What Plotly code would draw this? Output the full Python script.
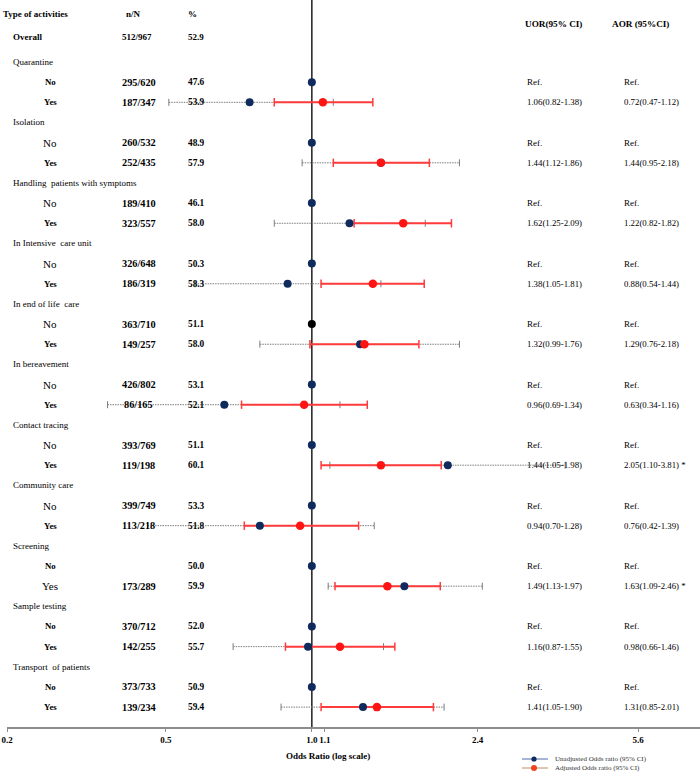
import math
import plotly.graph_objects as go

# ---- data ----
groups = ["Quarantine", "Isolation", "Handling  patients with symptoms",
          "In Intensive  care unit", "In end of life  care", "In bereavement",
          "Contact tracing", "Community care", "Screening", "Sample testing",
          "Transport  of patients"]
n_no = ["295/620", "260/532", "189/410", "326/648", "363/710", "426/802",
        "393/769", "399/749", "", "370/712", "373/733"]
pct_no = [47.6, 48.9, 46.1, 50.3, 51.1, 53.1, 51.1, 53.3, 50.0, 52.0, 50.9]
n_yes = ["187/347", "252/435", "323/557", "186/319", "149/257", "86/165",
         "119/198", "113/218", "173/289", "142/255", "139/234"]
pct_yes = [53.9, 57.9, 58.0, 58.3, 58.0, 52.1, 60.1, 51.8, 59.9, 55.7, 59.4]

uor = [1.06, 1.44, 1.62, 1.38, 1.32, 0.96, 1.44, 0.94, 1.49, 1.16, 1.41]
uor_lo = [0.82, 1.12, 1.25, 1.05, 0.99, 0.69, 1.05, 0.70, 1.13, 0.87, 1.05]
uor_hi = [1.38, 1.86, 2.09, 1.81, 1.76, 1.34, 1.98, 1.28, 1.97, 1.55, 1.90]
aor = [0.72, 1.44, 1.22, 0.88, 1.29, 0.63, 2.05, 0.76, 1.63, 0.98, 1.31]
aor_lo = [0.47, 0.95, 0.82, 0.54, 0.76, 0.34, 1.10, 0.42, 1.09, 0.66, 0.85]
aor_hi = [1.12, 2.18, 1.82, 1.44, 2.18, 1.16, 3.81, 1.39, 2.46, 1.46, 2.01]
aor_flag = ["", "", "", "", "", "", " *", "", " *", "", ""]

overall_n = "512/967"
overall_pct = 52.9

tick_vals = [0.2, 0.463, 1.0, 1.071, 2.4, 5.6]
tick_text = ["0.2", "0.5", "1.0", "1.1", "2.4", "5.6"]

# ---- layout helpers ----
FONT = "Liberation Serif"
NAVY = "#0f2a5c"
RED = "#ff1414"
ROW_H = 20.16
big_label_rows = {4, 7, 10, 13, 16, 19, 22, 26}

head_rows = [3 * i for i in range(len(groups))]
no_rows = [3 * i + 1 for i in range(len(groups))]
yes_rows = [3 * i + 2 for i in range(len(groups))]
ref_colors = [NAVY] * len(groups)
ref_colors[4] = "black"


def px_x(p):
    return (p - 7) / 693


def px_row(p):
    return (p - 62) / ROW_H


fig = go.Figure()


def text(xpx, row, s, size, bold=False, anchor="left", color="black"):
    fig.add_annotation(x=px_x(xpx), xref="paper", y=row, yref="y",
                       text=f"<b>{s}</b>" if bold else s, showarrow=False,
                       xanchor=anchor, yanchor="middle", borderpad=0,
                       font=dict(family=FONT, size=size, color=color))


def ci_lines(lo, hi, rows):
    xs, ys = [], []
    for a, b, r in zip(lo, hi, rows):
        xs += [a, b, None]
        ys += [r, r, None]
    return xs, ys


# adjusted (navy dots, dotted CI)
xs, ys = ci_lines(aor_lo, aor_hi, yes_rows)
fig.add_trace(go.Scatter(x=xs, y=ys, mode="lines", hoverinfo="skip",
                         line=dict(color="#7d7d7d", width=1, dash="1.5px,1px")))
fig.add_trace(go.Scatter(x=aor_lo + aor_hi, y=yes_rows * 2, mode="markers",
                         hoverinfo="skip",
                         marker=dict(symbol="line-ns", size=5,
                                     line=dict(color="#7d7d7d", width=1))))
# unadjusted (red dots, solid CI)
xs, ys = ci_lines(uor_lo, uor_hi, yes_rows)
fig.add_trace(go.Scatter(x=xs, y=ys, mode="lines", hoverinfo="skip",
                         line=dict(color="#ff3b3b", width=2)))
fig.add_trace(go.Scatter(x=uor_lo + uor_hi, y=yes_rows * 2, mode="markers",
                         hoverinfo="skip",
                         marker=dict(symbol="line-ns", size=6,
                                     line=dict(color="#ff3b3b", width=1.5))))
# reference dots
fig.add_trace(go.Scatter(x=[1.0] * len(no_rows), y=no_rows, mode="markers",
                         marker=dict(size=8, color=ref_colors)))
fig.add_trace(go.Scatter(x=aor, y=yes_rows, mode="markers",
                         name="Unadjusted Odds ratio (95% CI)",
                         marker=dict(size=8, color=NAVY)))
fig.add_trace(go.Scatter(x=uor, y=yes_rows, mode="markers",
                         name="Adjusted Odds ratio (95% CI)",
                         marker=dict(size=8.5, color=RED)))

# vertical line at OR = 1
fig.add_shape(type="line", xref="x", x0=1, x1=1, yref="paper", y0=0, y1=1,
              line=dict(color="#1e1e1e", width=1.5), layer="below")

# ---- table text ----
hy = px_row(14)
text(2, hy, "Type of activities", 9, bold=True)
text(133, hy, "n/N", 9, bold=True, anchor="center")
text(192, hy, "%", 9, bold=True, anchor="center")
uy = px_row(24)
text(524, uy, "UOR(95% CI)", 9.2, bold=True)
text(611, uy, "AOR (95%CI)", 9.2, bold=True)

oy = px_row(37)
text(12, oy, "Overall", 9, bold=True)
text(137, oy, overall_n, 9, bold=True, anchor="center")
text(196, oy, f"{overall_pct:.1f}", 9, bold=True, anchor="center")

for i, g in enumerate(groups):
    text(12, head_rows[i], g, 9)
    for r, lab, n, p in ((no_rows[i], "No", n_no[i], pct_no[i]),
                         (yes_rows[i], "Yes", n_yes[i], pct_yes[i])):
        if r in big_label_rows:
            text(50, r, lab, 11, anchor="center")
        else:
            text(50, r, lab, 8.8, bold=True, anchor="center")
        text(138.5, r, n, 10.3, bold=True, anchor="center")
        text(196, r, f"{p:.1f}", 9.3, bold=True, anchor="center")
    text(526, no_rows[i], "Ref.", 9)
    text(623, no_rows[i], "Ref.", 9)
    text(526, yes_rows[i], f"{uor[i]:.2f}({uor_lo[i]:.2f}-{uor_hi[i]:.2f})", 8.8)
    text(623, yes_rows[i],
         f"{aor[i]:.2f}({aor_lo[i]:.2f}-{aor_hi[i]:.2f}){aor_flag[i]}", 8.8)

# axis title
fig.add_annotation(x=px_x(328), xref="paper", y=(727 - 756) / 727, yref="paper",
                   text="<b>Odds Ratio (log scale)</b>", showarrow=False,
                   xanchor="center", yanchor="middle",
                   font=dict(family=FONT, size=9, color="black"))

# legend (drawn by hand)
for py, lcol, lw, dcol, r, lab in ((759, "#4d6db0", 1, NAVY, 2.6,
                                     "Unadjusted Odds ratio (95% CI)"),
                                    (768, "#d9c6b3", 2, "#f0441e", 3,
                                     "Adjusted Odds ratio (95% CI)")):
    yp = (727 - py) / 727
    fig.add_shape(type="line", xref="paper", yref="paper",
                  x0=px_x(522), x1=px_x(548), y0=yp, y1=yp,
                  line=dict(color=lcol, width=lw))
    fig.add_shape(type="circle", xref="paper", yref="paper",
                  x0=px_x(534 - r), x1=px_x(534 + r),
                  y0=yp - r / 727, y1=yp + r / 727,
                  fillcolor=dcol, line=dict(color=dcol, width=0))
    fig.add_annotation(x=px_x(554), xref="paper", y=yp, yref="paper",
                       text=lab, showarrow=False, xanchor="left",
                       yanchor="middle", borderpad=0,
                       font=dict(family=FONT, size=7, color="#333333"))

fig.update_layout(
    width=700, height=772,
    margin=dict(l=7, r=0, t=0, b=45),
    plot_bgcolor="white", paper_bgcolor="white",
    showlegend=False,
    xaxis=dict(type="log", range=[math.log10(0.2), 0.890],
               tickvals=tick_vals, ticktext=[f"<b>{t}</b>" for t in tick_text],
               tickangle=0,
               showgrid=False, zeroline=False, showline=True,
               linecolor="#8c8c8c", linewidth=2, ticks="outside", ticklen=3,
               tickcolor="#8c8c8c",
               tickfont=dict(family=FONT, size=9, color="black")),
    yaxis=dict(range=[px_row(727), px_row(0)], visible=False),
)

# the page body has a default 8px margin; drop it so the figure fills the window
fig.write_html("out.html", config={"displayModeBar": False},
               post_script="document.body.style.margin='0';")
